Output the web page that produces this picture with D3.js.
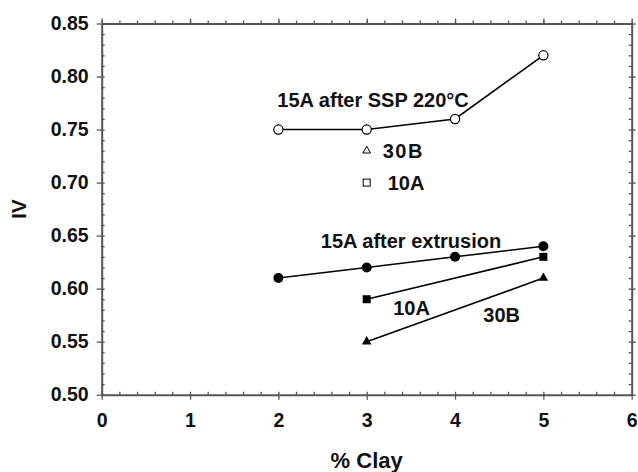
<!DOCTYPE html>
<html>
<head>
<meta charset="utf-8">
<script src="https://cdn.jsdelivr.net/npm/d3@7"></script>
<style>
  body { margin: 0; background: #fff; }
  text { font-family: "Liberation Sans", Arial, sans-serif; font-weight: bold; fill: #111; }
</style>
</head>
<body>
<div id="chart"></div>
<script>
// data
const clayAll = [2, 3, 4, 5];
const clayPart = [3, 5];
const ssp15A = [0.75, 0.75, 0.76, 0.82];
const extr15A = [0.61, 0.62, 0.63, 0.64];
const iv10A = [0.59, 0.63];
const iv30B = [0.55, 0.61];
const xTicks = [0, 1, 2, 3, 4, 5, 6];
const yTicks = [0.50, 0.55, 0.60, 0.65, 0.70, 0.75, 0.80, 0.85];

const W = 638, H = 472;
const margin = {top: 23.5, right: 6.3, bottom: 77.3, left: 101.7};

const svg = d3.select('#chart').append('svg')
  .attr('width', W).attr('height', H);

const x = d3.scaleLinear().domain([0, 6]).range([margin.left, W - margin.right]);
const y = d3.scaleLinear().domain([0.5, 0.85]).range([H - margin.bottom, margin.top]);

const axisCol = '#555';

// minor ticks
const xMinor = d3.range(0, 6.001, 0.2);
const yMinor = d3.range(0.5, 0.8501, 0.01);

function styleAxis(g) {
  g.selectAll('path').attr('stroke', axisCol).attr('stroke-width', 2);
  g.selectAll('line').attr('stroke', axisCol).attr('stroke-width', 1.3);
}

// bottom
svg.append('g').attr('transform', `translate(0,${y(0.5)})`)
  .call(d3.axisBottom(x).tickValues(xMinor).tickSize(-3).tickFormat(''))
  .call(g => g.select('.domain').remove()).call(styleAxis);
svg.append('g').attr('transform', `translate(0,${y(0.5)})`)
  .call(d3.axisBottom(x).tickValues(xTicks).tickSizeInner(5).tickSizeOuter(0).tickPadding(13)
    .tickFormat(d3.format('d')))
  .call(styleAxis)
  .call(g => g.selectAll('text').attr('font-size', 19.5).attr('fill', '#111')
    .style('font-family', '"Liberation Sans", Arial, sans-serif').style('font-weight', 'bold'));

// top
svg.append('g').attr('transform', `translate(0,${y(0.85)})`)
  .call(d3.axisTop(x).tickValues(xMinor).tickSize(3).tickFormat(''))
  .call(g => g.select('.domain').remove()).call(styleAxis);
svg.append('g').attr('transform', `translate(0,${y(0.85)})`)
  .call(d3.axisTop(x).tickValues(xTicks).tickSizeInner(5).tickSizeOuter(0).tickFormat(''))
  .call(styleAxis);

// left
svg.append('g').attr('transform', `translate(${x(0)},0)`)
  .call(d3.axisLeft(y).tickValues(yMinor).tickSize(-3).tickFormat(''))
  .call(g => g.select('.domain').remove()).call(styleAxis);
svg.append('g').attr('transform', `translate(${x(0)},0)`)
  .call(d3.axisLeft(y).tickValues(yTicks).tickSizeInner(5).tickSizeOuter(0).tickPadding(8)
    .tickFormat(d3.format('.2f')))
  .call(styleAxis)
  .call(g => g.selectAll('text').attr('font-size', 19.5).attr('fill', '#111')
    .style('font-family', '"Liberation Sans", Arial, sans-serif').style('font-weight', 'bold'));

// right
svg.append('g').attr('transform', `translate(${x(6)},0)`)
  .call(d3.axisRight(y).tickValues(yMinor).tickSize(-3).tickFormat(''))
  .call(g => g.select('.domain').remove()).call(styleAxis);
svg.append('g').attr('transform', `translate(${x(6)},0)`)
  .call(d3.axisRight(y).tickValues(yTicks).tickSizeInner(4).tickSizeOuter(0).tickFormat(''))
  .call(styleAxis);

// axis titles
svg.append('text').attr('x', (x(0) + x(6)) / 2).attr('y', 468)
  .attr('text-anchor', 'middle').attr('font-size', 22).text('% Clay');
svg.append('text').attr('transform', `translate(26,${(y(0.5) + y(0.85)) / 2}) rotate(-90)`)
  .attr('text-anchor', 'middle').attr('font-size', 21).text('IV');

// lines
const line = d3.line().x(d => x(d[0])).y(d => y(d[1]));
function drawLine(xs, ys) {
  svg.append('path').attr('d', line(d3.zip(xs, ys)))
    .attr('fill', 'none').attr('stroke', '#000').attr('stroke-width', 1.6);
}
drawLine(clayAll, ssp15A);
drawLine(clayAll, extr15A);
drawLine(clayPart, iv10A);
drawLine(clayPart, iv30B);

// markers
svg.selectAll('.ssp').data(d3.zip(clayAll, ssp15A)).enter().append('circle')
  .attr('cx', d => x(d[0])).attr('cy', d => y(d[1])).attr('r', 4.6)
  .attr('fill', '#fff').attr('stroke', '#000').attr('stroke-width', 1.2);
svg.selectAll('.ext').data(d3.zip(clayAll, extr15A)).enter().append('circle')
  .attr('cx', d => x(d[0])).attr('cy', d => y(d[1])).attr('r', 5);
svg.selectAll('.sq').data(d3.zip(clayPart, iv10A)).enter().append('rect')
  .attr('x', d => x(d[0]) - 4).attr('y', d => y(d[1]) - 4).attr('width', 8).attr('height', 8);
const tri = d3.symbol().type(d3.symbolTriangle).size(40);
svg.selectAll('.tri').data(d3.zip(clayPart, iv30B)).enter().append('path')
  .attr('d', tri).attr('transform', d => `translate(${x(d[0])},${y(d[1])})`);

// in-plot legend
svg.append('path').attr('d', d3.symbol().type(d3.symbolTriangle).size(26))
  .attr('transform', `translate(${x(3)},${y(0.73)})`)
  .attr('fill', '#fff').attr('stroke', '#000').attr('stroke-width', 1);
svg.append('rect').attr('x', x(3) - 3.5).attr('y', y(0.70) - 3.5).attr('width', 7).attr('height', 7)
  .attr('fill', '#fff').attr('stroke', '#000').attr('stroke-width', 1);
svg.append('text').attr('x', x(3) + 16).attr('y', y(0.73) + 7).attr('font-size', 20)
  .attr('letter-spacing', 1.5).text('30B');
svg.append('text').attr('x', x(3) + 21).attr('y', y(0.70) + 7).attr('font-size', 20).text('10A');

// annotations
svg.append('text').attr('x', x(2) - 1).attr('y', y(0.7715)).attr('font-size', 20).text('15A after SSP 220°C');
svg.append('text').attr('x', x(2.48)).attr('y', y(0.6383)).attr('font-size', 20).text('15A after extrusion');
svg.append('text').attr('x', x(3.3)).attr('y', y(0.575)).attr('font-size', 20).text('10A');
svg.append('text').attr('x', x(4.32)).attr('y', y(0.5685)).attr('font-size', 20).text('30B');
</script>
</body>
</html>
